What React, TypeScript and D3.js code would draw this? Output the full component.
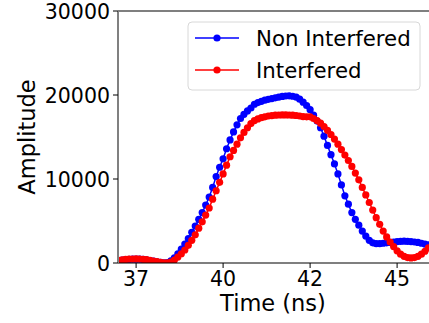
import React from 'react';
import * as d3 from 'd3';

// sample times (ns), 0.1 ns steps
const times: number[] = d3.range(0, 90).map(i => +(37.0 + i * 0.1).toFixed(1));

const nonInterfered: number[] = [
  300, 350, 400, 430, 450, 460, 450, 420, 370, 300,
  220, 140, 70, 20, 60, 250, 600, 1100, 1650, 2250,
  2900, 3650, 4400, 5200, 6000, 6900, 7850, 9000, 10300, 11400,
  12400, 13600, 14650, 15600, 16450, 17200, 17700, 18100, 18450, 18900,
  19100, 19250, 19380, 19480, 19570, 19660, 19750, 19830, 19880, 19900,
  19850, 19750, 19500, 19150, 18750, 18250, 17600, 16900, 16100, 15100,
  14000, 12900, 11800, 10600, 9300, 8000, 7000, 6000, 5200, 4500,
  3800, 3200, 2700, 2400, 2300, 2300, 2350, 2400, 2450, 2500,
  2550, 2580, 2600, 2580, 2550, 2500, 2450, 2350, 2250, 2150,
];

const interfered: number[] = [
  320, 370, 420, 450, 470, 480, 470, 440, 390, 320,
  240, 160, 80, 25, 5, 100, 350, 700, 1100, 1550,
  2100, 2700, 3350, 4150, 4900, 5700, 6550, 7600, 8600, 9600,
  10600, 11650, 12650, 13400, 14150, 14900, 15550, 16100, 16600, 16950,
  17150, 17300, 17400, 17500, 17550, 17600, 17620, 17630, 17630, 17620,
  17600, 17560, 17500, 17420, 17400, 17400, 17200, 16950, 16650, 16250,
  15800, 15300, 14750, 14150, 13500, 12850, 12200, 11500, 10700, 9900,
  9000, 8100, 7200, 6300, 5400, 4600, 3800, 3100, 2500, 1950,
  1450, 1050, 800, 650, 600, 650, 800, 1050, 1400, 1800,
];

const xTickValues = [37.5, 40, 42.5, 45];
const xTickLabels = ['37', '40', '42', '45'];
const yTickValues = [0, 10000, 20000, 30000];

const seriesNames = ['Non Interfered', 'Interfered'];
const seriesColors = ['#0000ff', '#ff0000'];

const W = 429;
const H = 323;
const left = 118, top = 11, bottom = 263, right = 440;
const FONT = '"DejaVu Sans", sans-serif';

export default function App() {
  const x = d3.scaleLinear().domain([36.98, 36.98 + (right - left) / 34.8]).range([left, right]);
  const y = d3.scaleLinear().domain([0, 30000]).range([bottom, top]);

  const line = d3.line<number>()
    .x((_, i) => x(times[i]))
    .y(d => y(d));

  const series = [nonInterfered, interfered];

  return (
    <svg width={W} height={H} style={{ position: 'absolute', left: 0, top: 0, background: '#fff' }}
      fontFamily={FONT}>
      <defs>
        <clipPath id="plot">
          <rect x={left} y={top} width={right - left} height={bottom - top} />
        </clipPath>
      </defs>

      <g clipPath="url(#plot)">
        {series.map((vals, si) => (
          <g key={si}>
            <path d={line(vals) || ''} fill="none" stroke={seriesColors[si]} strokeWidth={1.5} />
            {vals.map((v, i) => (
              <circle key={i} cx={x(times[i])} cy={y(v)} r={3.6} fill={seriesColors[si]} />
            ))}
          </g>
        ))}
      </g>

      {/* spines */}
      <line x1={left} x2={right} y1={top} y2={top} stroke="#000" strokeWidth={1.2} />
      <line x1={left} x2={right} y1={bottom} y2={bottom} stroke="#000" strokeWidth={1.2} />
      <line x1={left} x2={left} y1={top} y2={bottom} stroke="#808080" strokeWidth={2} />

      {/* x ticks */}
      {xTickValues.map((t, i) => (
        <g key={t}>
          <line x1={x(t)} x2={x(t)} y1={bottom} y2={bottom + 5} stroke="#000" strokeWidth={1} />
          <text x={x(t)} y={bottom + 23} fontSize={20.5} textAnchor="middle">{xTickLabels[i]}</text>
        </g>
      ))}

      {/* y ticks */}
      {yTickValues.map(v => (
        <g key={v}>
          <line x1={left - 5} x2={left} y1={y(v)} y2={y(v)} stroke="#000" strokeWidth={1} />
          <text x={110} y={y(v) + 7.8} fontSize={20.5} textAnchor="end">{v}</text>
        </g>
      ))}

      {/* axis labels */}
      <text x={(left + 429) / 2 - 0.5} y={311} fontSize={22.5} textAnchor="middle">Time (ns)</text>
      <text transform={`translate(35,${(top + bottom) / 2}) rotate(-90)`} fontSize={22.5} textAnchor="middle">Amplitude</text>

      {/* legend */}
      <rect x={188} y={22} width={232} height={68} rx={4} fill="#fff" fillOpacity={0.8} stroke="#d8d8d8" strokeWidth={1} />
      {seriesNames.map((name, i) => {
        const ly = 38 + i * 32;
        return (
          <g key={name}>
            <line x1={195} x2={239} y1={ly} y2={ly} stroke={seriesColors[i]} strokeWidth={1.5} />
            <circle cx={217} cy={ly} r={3.6} fill={seriesColors[i]} />
            <text x={256} y={ly + 7.7} fontSize={21.3}>{name}</text>
          </g>
        );
      })}
    </svg>
  );
}
